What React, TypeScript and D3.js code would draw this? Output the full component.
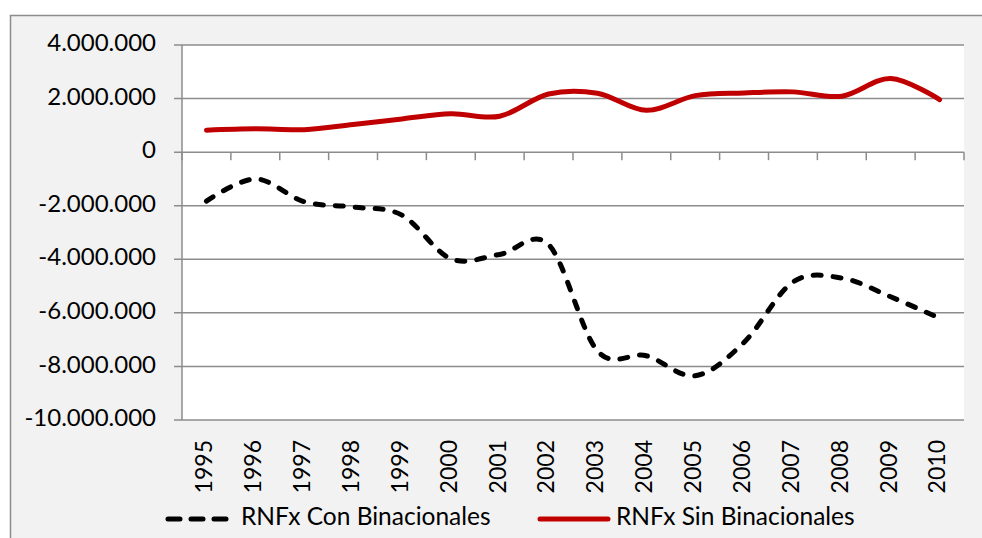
import * as d3 from "d3";

const YEARS = ["1995", "1996", "1997", "1998", "1999", "2000", "2001", "2002", "2003", "2004", "2005", "2006", "2007", "2008", "2009", "2010"];
const CON_BINACIONALES = [-1830000, -1000000, -1850000, -2050000, -2350000, -3980000, -3820000, -3450000, -7420000, -7600000, -8350000, -7100000, -4850000, -4700000, -5400000, -6200000];
const SIN_BINACIONALES = [820000, 870000, 840000, 1030000, 1240000, 1430000, 1340000, 2170000, 2200000, 1560000, 2110000, 2210000, 2250000, 2090000, 2750000, 1960000];
const Y_TICKS = [4000000, 2000000, 0, -2000000, -4000000, -6000000, -8000000, -10000000];
const LEGEND = ["RNFx Con Binacionales", "RNFx Sin Binacionales"];

const WIDTH = 982;
const HEIGHT = 538;
const PLOT = { left: 182, right: 964, top: 45, bottom: 420 };
const FONT = "Lato, 'Open Sans', sans-serif";
const GRID = "#8c8c8c";

const fmt = d3
  .formatLocale({ decimal: ",", thousands: ".", grouping: [3], currency: ["", ""], minus: "-" })
  .format(",.0f");

export default function App() {
  const x = d3.scaleBand<string>().domain(YEARS).range([PLOT.left, PLOT.right]);
  const y = d3.scaleLinear().domain([-10000000, 4000000]).range([PLOT.bottom, PLOT.top]);
  const cx = (year: string) => (x(year) ?? 0) + x.bandwidth() / 2;

  // Excel-style smoothed line
  const line = d3
    .line<number>()
    .x((_, i) => cx(YEARS[i]))
    .y((d) => y(d))
    .curve(d3.curveCardinal.tension(0));

  const zeroY = y(0);
  const boundaries = d3.range(YEARS.length + 1).map((i) => PLOT.left + i * x.bandwidth());

  return (
    <div style={{ position: "absolute", left: 0, top: 0 }}>
      <svg width={WIDTH} height={HEIGHT} style={{ display: "block", fontFamily: FONT }}>
        <rect x={0} y={0} width={WIDTH} height={HEIGHT} fill="#ffffff" />
        <rect x={10.5} y={15.5} width={1000} height={600} fill="#f2f2f2" stroke="#8c8c8c" strokeWidth={1.5} />
        <rect x={PLOT.left} y={PLOT.top} width={PLOT.right - PLOT.left} height={PLOT.bottom - PLOT.top} fill="#ffffff" />

        {/* gridlines + y ticks */}
        {Y_TICKS.map((t) => (
          <g key={t}>
            <line x1={PLOT.left - 8} x2={PLOT.right} y1={y(t)} y2={y(t)} stroke={GRID} strokeWidth={1.5} />
            <text x={156} y={y(t)} textAnchor="end" dominantBaseline="middle" fontSize={24} fill="#000">
              {fmt(t)}
            </text>
          </g>
        ))}
        <line x1={PLOT.left} x2={PLOT.left} y1={PLOT.top} y2={PLOT.bottom} stroke={GRID} strokeWidth={1.5} />

        {/* category axis at zero */}
        {boundaries.map((bx, i) => (
          <line key={i} x1={bx} x2={bx} y1={zeroY} y2={zeroY + 8} stroke={GRID} strokeWidth={1.5} />
        ))}
        {YEARS.map((yr) => (
          <text
            key={yr}
            transform={`translate(${cx(yr)}, 440) rotate(-90)`}
            textAnchor="end"
            dominantBaseline="middle"
            fontSize={23}
            fill="#000"
          >
            {yr}
          </text>
        ))}

        <path
          d={line(SIN_BINACIONALES) ?? ""}
          fill="none"
          stroke="#c00000"
          strokeWidth={5}
          strokeLinecap="round"
          strokeLinejoin="round"
        />
        <path
          d={line(CON_BINACIONALES) ?? ""}
          fill="none"
          stroke="#000"
          strokeWidth={5}
          strokeDasharray="8 12"
          strokeLinecap="round"
          strokeLinejoin="round"
        />

        {/* legend */}
        <line x1={168} x2={226} y1={519} y2={519} stroke="#000" strokeWidth={5} strokeDasharray="12 11" strokeLinecap="round" />
        <text x={241} y={519} dominantBaseline="middle" fontSize={24.5} fill="#000">
          {LEGEND[0]}
        </text>
        <line x1={540} x2={608} y1={519} y2={519} stroke="#c00000" strokeWidth={5} strokeLinecap="round" />
        <text x={616} y={519} dominantBaseline="middle" fontSize={24.5} fill="#000">
          {LEGEND[1]}
        </text>
      </svg>
    </div>
  );
}
